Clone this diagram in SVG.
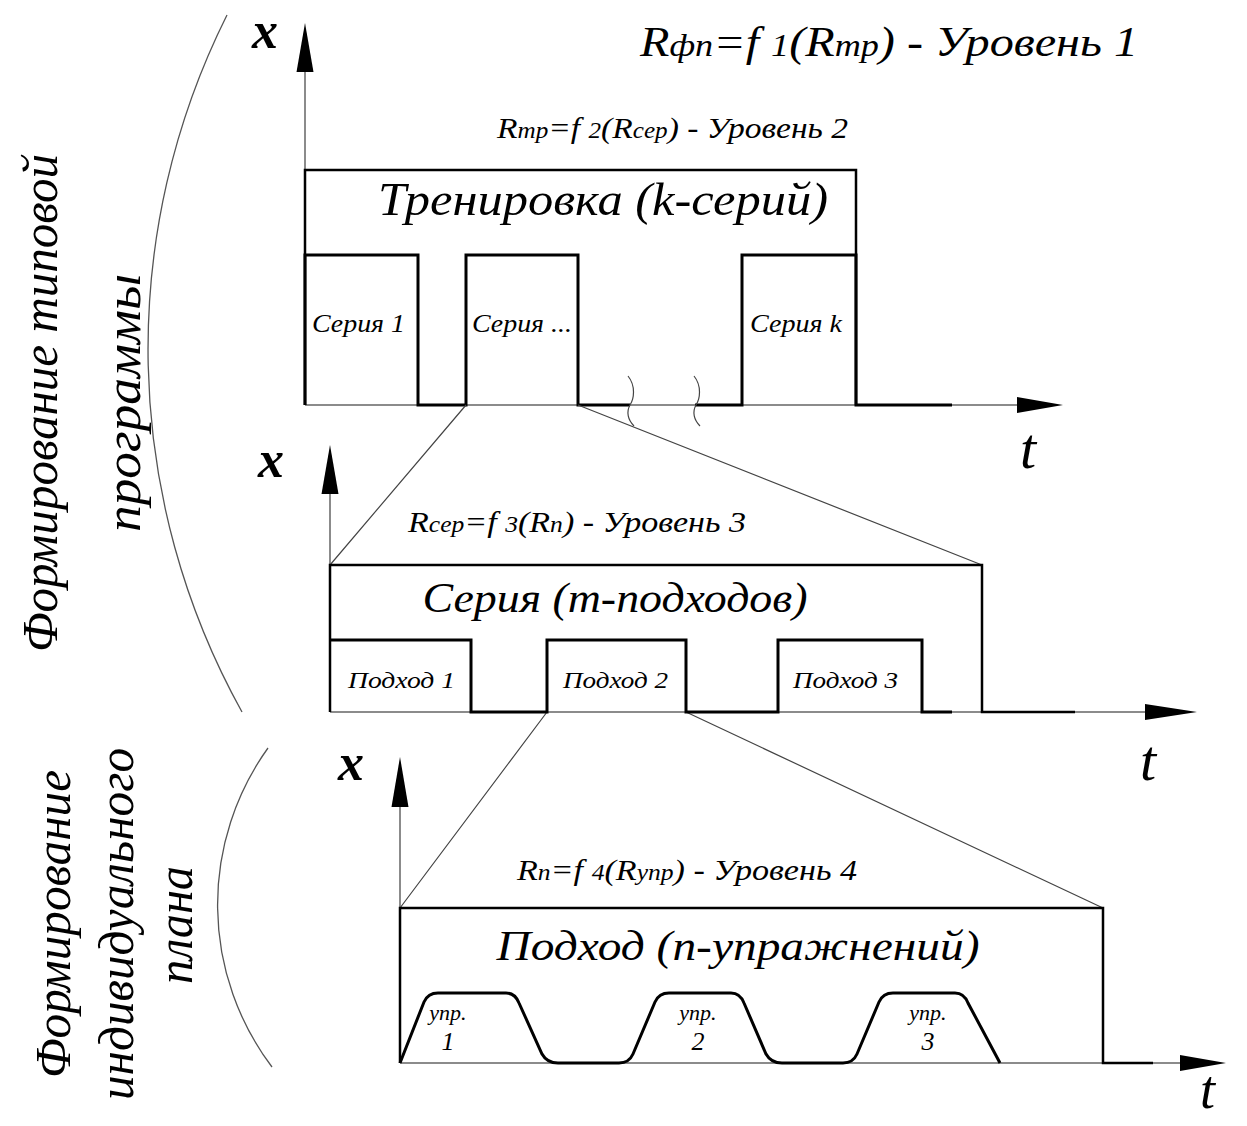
<svg xmlns="http://www.w3.org/2000/svg" width="1247" height="1126" viewBox="0 0 1247 1126">
<style>
text{font-family:'Liberation Serif',serif;font-style:italic;fill:#000}
.ax{stroke:#666;stroke-width:1.5;fill:none}
.tr{stroke:#000;stroke-width:3;fill:none;stroke-linejoin:miter}
.bx{stroke:#000;stroke-width:2.5;fill:none}
.zl{stroke:#444;stroke-width:1.2;fill:none}
.arc{stroke:#555;stroke-width:1.3;fill:none}
.ah{fill:#000}
.sub{font-size:75%}
.lab{font-weight:bold}
</style>
<rect width="1247" height="1126" fill="#fff"/>
<g id="side-labels">
<path class="arc" d="M227,15 A747,747 0 0 0 242,712"/>
<path class="arc" d="M268,748 A269,269 0 0 0 272,1067"/>
<text font-size="50" text-anchor="middle" transform="translate(57,403) rotate(-90)" textLength="498" lengthAdjust="spacingAndGlyphs">Формирование типовой</text>
<text font-size="50" text-anchor="middle" transform="translate(140,403) rotate(-90)" textLength="258" lengthAdjust="spacingAndGlyphs">программы</text>
<text font-size="50" text-anchor="middle" transform="translate(70,924) rotate(-90)" textLength="308" lengthAdjust="spacingAndGlyphs">Формирование</text>
<text font-size="50" text-anchor="middle" transform="translate(133,924) rotate(-90)" textLength="352" lengthAdjust="spacingAndGlyphs">индивидуального</text>
<text font-size="50" text-anchor="middle" transform="translate(192,925) rotate(-90)" textLength="118" lengthAdjust="spacingAndGlyphs">плана</text>
</g>
<g id="chart1">
<path class="ax" d="M305,405 V72 M305,405 H1017"/>
<polygon class="ah" points="305,23 296.5,72 313.5,72"/>
<polygon class="ah" points="1063,405 1017,397 1017,413"/>
<text class="lab" x="252" y="48" font-size="52">x</text>
<text x="1020" y="468" font-size="58">t</text>
<text x="640" y="56" font-size="42" textLength="498" lengthAdjust="spacingAndGlyphs">R<tspan class="sub">фп</tspan>=f <tspan class="sub">1</tspan>(R<tspan class="sub">mp</tspan>) - Уровень 1</text>
<text x="497" y="138" font-size="30" textLength="351" lengthAdjust="spacingAndGlyphs">R<tspan class="sub">mp</tspan>=f <tspan class="sub">2</tspan>(R<tspan class="sub">cep</tspan>) - Уровень 2</text>
<g id="training">
<path class="bx" d="M305,405 V170 H856 V405"/>
<text x="603" y="215" font-size="46" text-anchor="middle" textLength="450" lengthAdjust="spacingAndGlyphs">Тренировка (k-серий)</text>
</g>
<path class="tr" d="M305,405 V255 H418 V405 H466 V255 H578 V405 H630 M695,405 H742 V255 H856 V405 H952"/>
<path class="zl" d="M628,376 C636,386 634,399 630,405 C626,412 628,420 634,426 M694,376 C702,386 700,399 696,405 C692,412 694,420 700,426"/>
<g id="series1"><text x="312" y="332" font-size="26" textLength="93" lengthAdjust="spacingAndGlyphs">Серия 1</text></g>
<g id="series-dots"><text x="472" y="332" font-size="26" textLength="100" lengthAdjust="spacingAndGlyphs">Серия ...</text></g>
<g id="seriesk"><text x="750" y="332" font-size="26" textLength="92" lengthAdjust="spacingAndGlyphs">Серия k</text></g>
</g>
<g id="connectors">
<path class="zl" d="M466,405 L330,565 M578,405 L982,565 M547,712 L400,908 M686,712 L1103,908"/>
</g>
<g id="chart2">
<path class="ax" d="M330,712 V493 M330,712 H1145"/>
<polygon class="ah" points="330,445 321.5,494 338.5,494"/>
<polygon class="ah" points="1197,712 1145,704 1145,720"/>
<text class="lab" x="258" y="477" font-size="52">x</text>
<text x="1140" y="780" font-size="58">t</text>
<text x="408" y="532" font-size="30" textLength="338" lengthAdjust="spacingAndGlyphs">R<tspan class="sub">cep</tspan>=f <tspan class="sub">3</tspan>(R<tspan class="sub">n</tspan>) - Уровень 3</text>
<g id="series">
<path class="bx" d="M330,712 V565 H982 V712 H1075"/>
<text x="615" y="612" font-size="42" text-anchor="middle" textLength="385" lengthAdjust="spacingAndGlyphs">Серия (m-подходов)</text>
</g>
<path class="tr" d="M330,640 H471 V712 H547 V640 H686 V712 H778 V640 H922 V712 H952"/>
<g id="set1"><text x="348" y="688" font-size="24" textLength="107" lengthAdjust="spacingAndGlyphs">Подход 1</text></g>
<g id="set2"><text x="563" y="688" font-size="24" textLength="105" lengthAdjust="spacingAndGlyphs">Подход 2</text></g>
<g id="set3"><text x="793" y="688" font-size="24" textLength="105" lengthAdjust="spacingAndGlyphs">Подход 3</text></g>
</g>
<g id="chart3">
<path class="ax" d="M400,1063 V807 M400,1063 H1180"/>
<polygon class="ah" points="400,757 391.5,807 408.5,807"/>
<polygon class="ah" points="1226,1063 1180,1055 1180,1071"/>
<text class="lab" x="338" y="780" font-size="52">x</text>
<text x="1200" y="1108" font-size="54">t</text>
<text x="517" y="880" font-size="30" textLength="340" lengthAdjust="spacingAndGlyphs">R<tspan class="sub">n</tspan>=f <tspan class="sub">4</tspan>(R<tspan class="sub">ynp</tspan>) - Уровень 4</text>
<g id="approach">
<path class="bx" d="M400,1063 V908 H1103 V1063 H1153"/>
<text x="738" y="960" font-size="42" text-anchor="middle" textLength="483" lengthAdjust="spacingAndGlyphs">Подход (n-упражнений)</text>
</g>
<path class="tr" d="M400,1063 L424,1002 Q428,993 438,993 L506,993 Q515,993 519,1003 L542,1054 Q547,1063 558,1063 L619,1063 Q629,1063 633,1054 L655,1002 Q659,993 669,993 L731,993 Q740,993 744,1003 L766,1054 Q771,1063 782,1063 L843,1063 Q853,1063 857,1054 L879,1002 Q883,993 893,993 L955,993 Q964,993 968,1003 L1000,1063"/>
<g id="ex1"><text x="448" y="1020" font-size="22" text-anchor="middle">упр.</text><text x="448" y="1050" font-size="26" text-anchor="middle">1</text></g>
<g id="ex2"><text x="698" y="1020" font-size="22" text-anchor="middle">упр.</text><text x="698" y="1050" font-size="26" text-anchor="middle">2</text></g>
<g id="ex3"><text x="928" y="1020" font-size="22" text-anchor="middle">упр.</text><text x="928" y="1050" font-size="26" text-anchor="middle">3</text></g>
</g>
</svg>
